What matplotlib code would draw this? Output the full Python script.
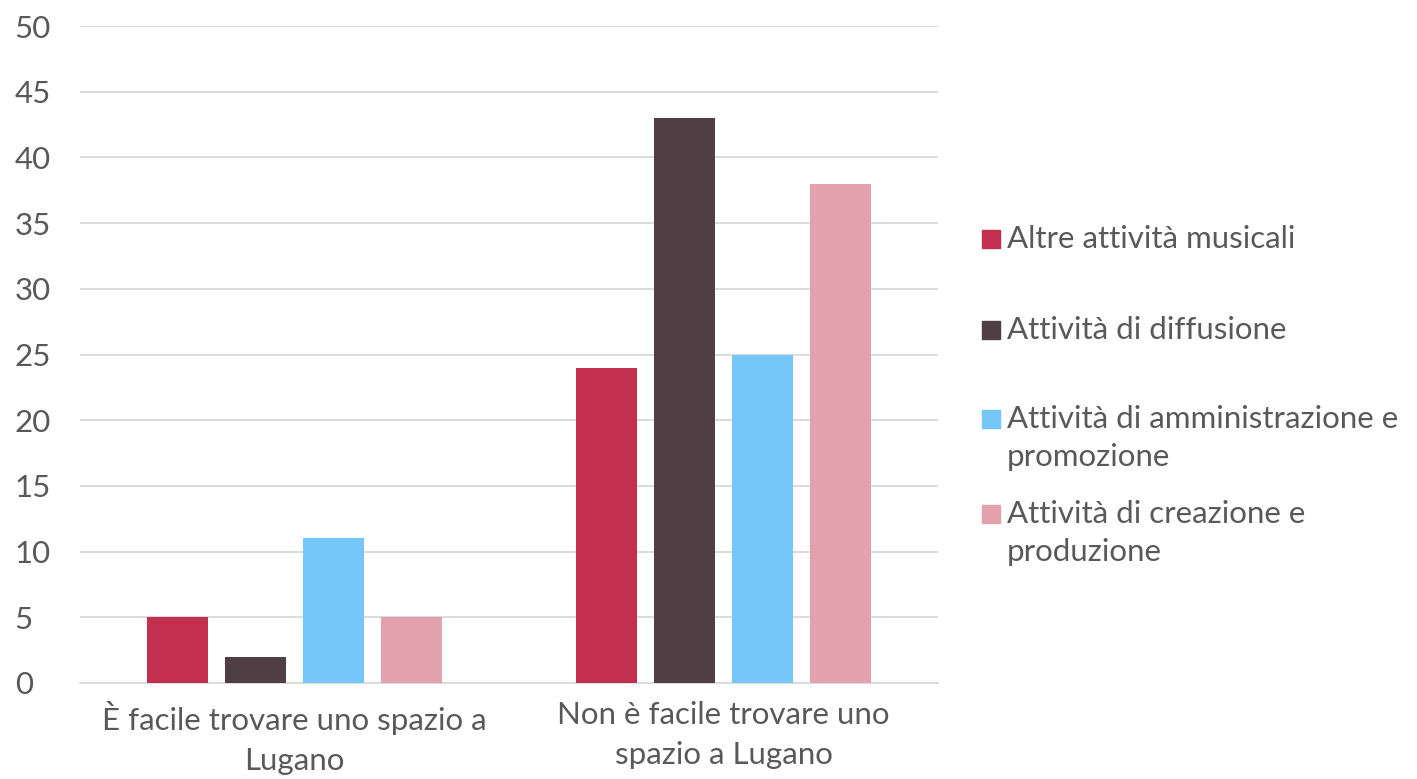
import numpy as np
import matplotlib.pyplot as plt
from matplotlib.patches import Rectangle

plt.rcParams["font.family"] = ["Lato", "DejaVu Sans"]

categories = ["È facile trovare uno spazio a\nLugano", "Non è facile trovare uno\nspazio a Lugano"]
series = ["Altre attività musicali", "Attività di diffusione",
          "Attività di amministrazione e\npromozione", "Attività di creazione e\nproduzione"]
altre = [5, 24]
diffusione = [2, 43]
amministrazione = [11, 25]
creazione = [5, 38]
colors = ["#C3304F", "#4F3F44", "#75C7F9", "#E3A1AD"]
text_color = "#595959"
fs = 22.5

W, H = 1417, 779
fig = plt.figure(figsize=(W / 100, H / 100), dpi=100)
ax = fig.add_axes([80 / W, 96 / H, (938 - 80) / W, (683 - 26) / H])

x = np.arange(len(categories))
width = 0.142
offsets = [-0.273, -0.091, 0.091, 0.273]
for vals, off, c in zip([altre, diffusione, amministrazione, creazione], offsets, colors):
    ax.bar(x + off, vals, width=width, color=c, zorder=3)

ax.set_xlim(-0.5, 1.5)
ax.set_ylim(0, 50)
ax.set_yticks(np.arange(0, 51, 5))
ax.set_xticks(x)
ax.set_xticklabels(categories, linespacing=1.5)
ax.tick_params(axis="both", length=0, labelsize=fs, colors=text_color)
ax.tick_params(axis="x", pad=13)
ax.tick_params(axis="y", pad=47)
for lbl in ax.get_yticklabels():
    lbl.set_horizontalalignment("left")
ax.grid(axis="y", color="#D9D9D9", lw=1.3, zorder=0)
for s in ["top", "right", "left"]:
    ax.spines[s].set_visible(False)
ax.spines["bottom"].set_color("#D9D9D9")
ax.spines["bottom"].set_linewidth(1.3)

# legend drawn by hand so the swatch sits on the first text line
leg_y = [239, 330, 419, 514]
line_gap = 38
for name, c, yy in zip(series, colors, leg_y):
    fig.patches.append(Rectangle((982 / W, 1 - (yy + 9) / H), 18 / W, 18 / H,
                                 transform=fig.transFigure, color=c))
    for i, line in enumerate(name.split("\n")):
        fig.text(1007 / W, 1 - (yy + 9 + i * line_gap) / H, line, fontsize=fs,
                 color=text_color, va="baseline", ha="left")

fig.savefig("out.png", dpi=100)
